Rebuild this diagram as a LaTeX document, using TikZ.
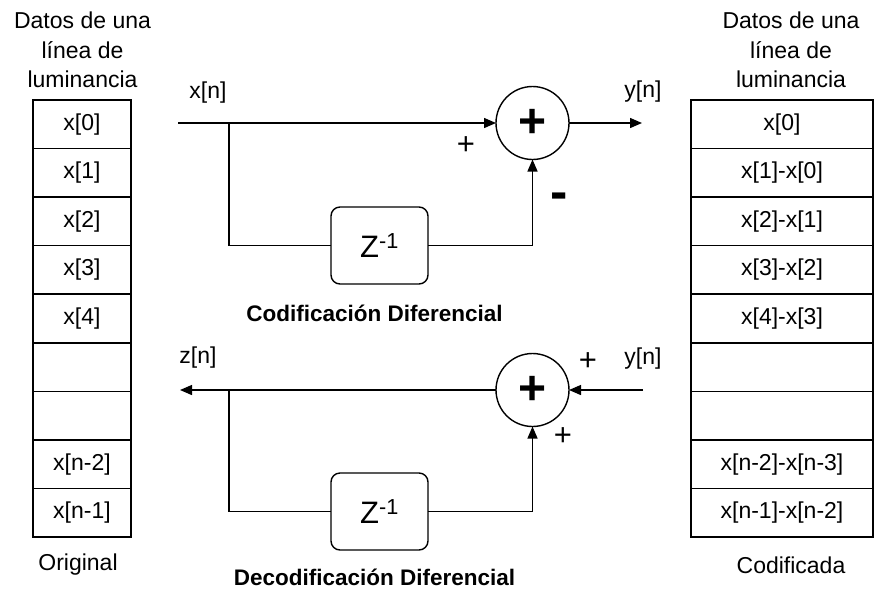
\documentclass[tikz,border=0pt]{standalone}
\usepackage{fontspec}
\setmainfont{Liberation Sans}
\usetikzlibrary{arrows.meta,positioning}
\tikzset{
  txt/.style={font=\fontsize{23}{29.5}\selectfont},
  ttl/.style={font=\fontsize{22.5}{27}\selectfont\bfseries},
  sgn/.style={font=\fontsize{31}{33}\selectfont},
  cell/.style={draw,line width=1.6pt,txt,inner sep=0pt,minimum height=48.56pt},
  sumnode/.style={draw,circle,line width=1.4pt,minimum size=73pt,inner sep=0pt,outer sep=0pt,font=\fontsize{48}{50}\selectfont\bfseries},
  delay/.style={draw,rounded corners=9pt,line width=1.4pt,minimum width=97pt,minimum height=77pt,outer sep=0pt,font=\fontsize{31}{33}\selectfont},
  wire/.style={line width=1.4pt},
  >={Triangle[length=12pt,width=10pt]}
}

\begin{document}
\begin{tikzpicture}[x=1pt,y=-1pt]
    \useasboundingbox (0,0) rectangle (875,590);
    \node[txt,align=center] (hdrL) at (82.5,50) {Datos de una\\línea de\\luminancia};
    \node[txt,align=center] (hdrR) at (791,50) {Datos de una\\línea de\\luminancia};
    \foreach \i/\a/\b in {0/x[0]/x[0], 1/x[1]/x[1]-x[0], 2/x[2]/x[2]-x[1], 3/x[3]/x[3]-x[2],
      4/x[4]/x[4]-x[3], 5//, 6//, 7/x[n-2]/x[n-2]-x[n-3], 8/x[n-1]/x[n-1]-x[n-2]}
    {
      \node[cell,minimum width=98pt] (L\i) at (82,{100+48.56*(\i+0.5)}) {\a};
      \node[cell,minimum width=182pt] (R\i) at (782,{100+48.56*(\i+0.5)}) {\b};
    }
    \node[txt] (orig) at (78,565) {Original};
    \node[txt] (codif) at (791,565) {Codificada};

    \node[sumnode] (sumA) at (532.5,123) {+};
    \node[delay] (delA) at (379.5,245.5) {Z\textsuperscript{-1}};
    \coordinate (inA) at (178,123);
    \coordinate (brA) at (229,123);
    \coordinate (outA) at (642,123);
    \draw[wire,->] (inA) -- (sumA);
    \draw[wire] (brA) |- (delA);
    \draw[wire,->] (delA) -| (sumA);
    \draw[wire,->] (sumA) -- (outA);
    \node[txt] (xn) at (208,93) {x[n]};
    \node[txt] (ynA) at (643,92) {y[n]};
    \node[sgn] (plA) at (466,146) {+};
    \node[font=\fontsize{52}{54}\selectfont\bfseries,anchor=base] (miA) at (559,209) {-};
    \node[ttl] (ttlA) at (374.5,313) {Codificación Diferencial};

    \node[sumnode] (sumB) at (532.5,390) {+};
    \node[delay] (delB) at (379.5,511.5) {Z\textsuperscript{-1}};
    \coordinate (inB) at (643,390);
    \coordinate (brB) at (229,390);
    \coordinate (outB) at (180,390);
    \draw[wire,->] (inB) -- (sumB);
    \draw[wire,->] (sumB) -- (outB);
    \draw[wire] (brB) |- (delB);
    \draw[wire,->] (delB) -| (sumB);
    \node[txt] (zn) at (198,358) {z[n]};
    \node[txt] (ynB) at (643,359) {y[n]};
    \node[sgn] (plB) at (588,362) {+};
    \node[sgn] (plC) at (563,437) {+};
    \node[ttl] (ttlB) at (374.5,577) {Decodificación Diferencial};
  \end{tikzpicture}
\end{document}
